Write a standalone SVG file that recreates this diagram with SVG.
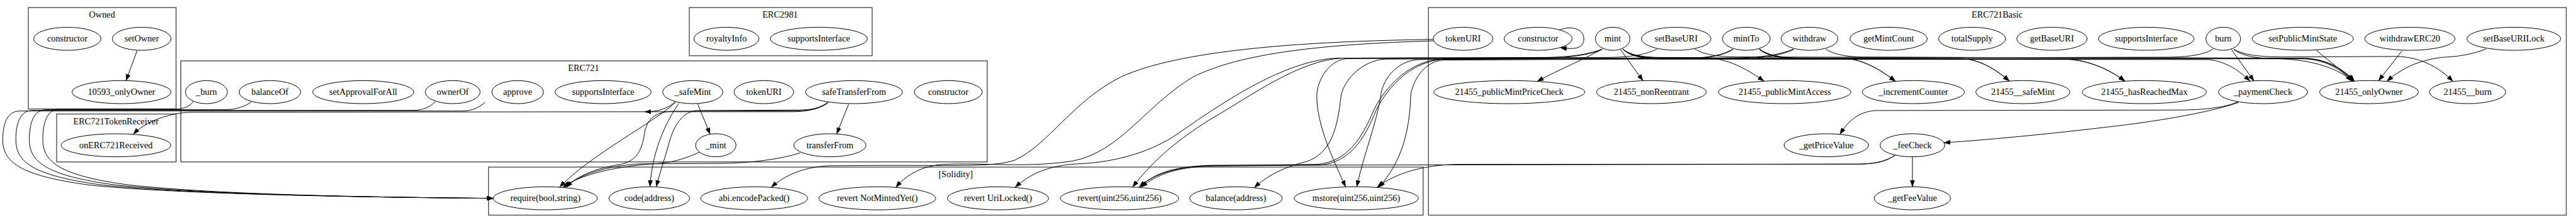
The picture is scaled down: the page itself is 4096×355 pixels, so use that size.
<svg xmlns="http://www.w3.org/2000/svg" width="4096" height="355" viewBox="0 0 4096 355">
<defs>
<style>
.cl{fill:none;stroke:#4a4a4a;stroke-width:1.8}
.clb{fill:none;stroke:#000;stroke-width:1.3}
.ct{font-family:"Liberation Serif","Times New Roman",serif;font-size:18.7px;text-anchor:middle;fill:#000}
.n ellipse{fill:none;stroke:#000;stroke-width:1.3}
.n text{font-family:"Liberation Serif","Times New Roman",serif;font-size:18.7px;text-anchor:middle;fill:#000}
.e path{fill:none;stroke:#000;stroke-width:1.3;marker-end:url(#arr)}
</style>
<marker id="arr" markerUnits="userSpaceOnUse" markerWidth="14" markerHeight="10" refX="13.5" refY="5" orient="auto"><path d="M0,0 L14,5 L0,10 z" fill="#000"/></marker>
</defs>
<rect x="0" y="0" width="4096" height="355" fill="#fff"/>
<g transform="scale(0.765)">
<g id="clusters">
<g id="cluster_Owned"><rect class="cl" x="59" y="15.7" width="307" height="211"/><text class="ct" x="212" y="36">Owned</text></g>
<g id="cluster_ERC2981"><rect class="cl" x="1432.7" y="15.7" width="380" height="100.3"/><text class="ct" x="1621.6" y="36">ERC2981</text></g>
<g id="cluster_ERC721"><rect class="clb" x="376" y="126.7" width="1676" height="210.3"/><text class="ct" x="1213" y="148">ERC721</text></g>
<g id="cluster_ERC721TokenReceiver"><rect class="cl" x="117.7" y="237.3" width="248.3" height="99.7"/><text class="ct" x="241" y="259">ERC721TokenReceiver</text></g>
<g id="cluster_Solidity"><rect class="cl" x="1015.4" y="347.7" width="1942.6" height="100"/><text class="ct" x="1986.6" y="369">[Solidity]</text></g>
<g id="cluster_ERC721Basic"><rect class="cl" x="2969" y="15.7" width="2365" height="432"/><text class="ct" x="4151" y="36">ERC721Basic</text></g>
</g>
<g id="edges" class="e">
<path d="M285,105 L262,167.7"/>
<path d="M402,211 C395,220 385,227 365,227 L124,227 C97,227 89,257 89,290 C89,335 119,365 269,385 C439,403 700,410 1025.6,412.7"/>
<path d="M523.5,211 C510,222 490,228.3 465,228.3 L96,228.3 C69,228.3 61,258 61,290 C61,335 91,365 241,385 C411,403 700,410 1025.6,412.7"/>
<path d="M905,211 C895,222 880,229.6 860,229.6 L68,229.6 C41,229.6 33,259 33,290 C33,335 63,365 213,385 C383,403 700,410 1025.6,412.7"/>
<path d="M1008,213 C995,224 982,231 960,231 L41,231 C14,231 5.7,260 5.7,290 C5.7,335 35.7,365 185.7,385 C355.7,403 700,410 1025.6,412.7"/>
<path d="M1404,211 C1390,225 1370,232.5 1340,232.5 L400,233.5 C350,234 300,255 277,279.5"/>
<path d="M1721,213 C1705,226 1680,232 1650,232.5 L1340,232.5"/>
<path d="M1404,213 C1360,255 1230,320 1163,389.6"/>
<path d="M1411,215 C1380,260 1355,320 1351,388.7"/>
<path d="M1450,216 L1476,279.3"/>
<path d="M1764,216.7 L1739,278.7"/>
<path d="M1721,213 C1705,225 1685,229 1660,229 L1450,230 C1420,231 1400,260 1390,300 C1380,335 1370,365 1364,388.5"/>
<path d="M1721,214 C1705,226 1685,230 1660,230.5 L1400,231.5 C1360,232 1345,250 1340,275 C1335,310 1325,335 1290,342 C1240,350 1200,365 1177,390"/>
<path d="M1453.6,316.7 C1430,328 1400,338 1370,340 C1290,345 1210,360 1170,390"/>
<path d="M1663.5,318 C1620,332 1560,339 1500,340 L1330,341 C1260,345 1200,365 1173,390"/>
<path d="M2979,82 C2700,86 2450,105 2330,160 C2230,210 2180,300 2110,333 C2060,350 1980,342 1720,345 C1670,348 1630,365 1603,390"/>
<path d="M2979,85 C2750,92 2580,110 2480,160 C2380,220 2330,315 2230,335 C2130,350 2050,338 1960,342 C1910,346 1880,368 1862,390"/>
<path d="M3444,102 C3420,114 3390,119 3340,119.5 L2780,121 C2680,124 2560,200 2460,270 C2400,315 2320,338 2240,341 C2180,344 2140,362 2110,390"/>
<path d="M3330,102 C3300,114 3260,119.5 3200,119.5 L2790,121 C2700,125 2600,200 2513,250 C2450,290 2400,330 2354,389.3"/>
<path d="M3939,323 C3920,335 3900,341 3860,341.5 L2520,344 C2440,346 2400,360 2368,389.5"/>
<path d="M3728,102 C3700,114 3660,120 3600,120.5 L2880,123 C2830,125 2790,170 2787,203 C2780,260 2770,320 2713,337 C2680,345 2640,360 2607,390.6"/>
<path d="M3330,103 C3300,116 3250,121 3200,121 L2800,122 C2760,125 2737,170 2737,200 C2737,260 2770,330 2797,389"/>
<path d="M3602,102 C3580,115 3550,121 3500,121 L2950,124 C2900,126 2872,170 2870,200 C2860,260 2835,320 2820,388.7"/>
<path d="M3939,323 C3920,336 3900,341.5 3860,341.5 L3030,342 C2960,343 2900,360 2862,390"/>
<path d="M3728,103 C3700,116 3660,122 3600,122 L3000,125 C2960,127 2935,170 2932,200 C2930,270 2915,335 2866,390"/>
<path d="M3602,103 C3580,116 3550,122 3500,122 L3000,123 C2930,125 2880,180 2855,230 C2830,290 2800,335 2740,342 L2520,344.5 C2450,346 2400,360 2368,389.5"/>
<path d="M4600,102 C4580,114 4550,119 4500,119 L3010,122.5 C2935,124 2885,180 2860,230 C2835,292 2805,337 2745,343.5 L2520,345.5 C2450,347 2405,362 2372,389.5"/>
<path d="M3330,102 C3300,120 3240,145 3195,169.4"/>
<path d="M3368,103 L3415,168"/>
<path d="M3373,102 C3385,113 3410,119 3450,119.5 L3550,120 C3600,124 3640,150 3666.7,169"/>
<path d="M3373,102 C3386,114 3412,120 3450,120.5 L3830,121 C3875,123 3912,148 3940,169.2"/>
<path d="M3374,103 C3388,115 3415,121 3455,121.5 L4080,122 C4120,125 4152,148 4176.7,168.7"/>
<path d="M3374,103 C3388,116 3415,122 3455,122.5 L4300,123.5 C4350,127 4392,150 4416.7,168.9"/>
<path d="M3374,103 C3388,117 3415,123 3455,123 L4590,124 C4630,128 4657,150 4676.7,168.7"/>
<path d="M3657,102 C3672,114 3700,120.5 3740,120.5 L3830,121 C3875,123 3912,148 3940,169.2"/>
<path d="M3657,102 C3673,115 3702,121 3742,121 L4080,122 C4120,125 4152,148 4176.7,168.7"/>
<path d="M3657,103 C3673,116 3702,122 3742,122 L4300,123 C4350,127 4392,150 4416.7,168.9"/>
<path d="M3657,103 C3674,116 3705,122 3745,122 L4790,122.5 C4840,125 4870,148 4888,169.2"/>
<path d="M3523,102 C3540,113 3570,118.5 3610,118.5 L4790,121 C4842,123 4875,148 4894,169.3"/>
<path d="M3795,102 C3810,113 3840,119 3880,119 L4790,121.5 C4842,124 4874,148 4892,169.2"/>
<path d="M4638,103 L4685,168.7"/>
<path d="M4643,102 C4660,114 4700,119 4750,118.5 L4980,117.5 C5030,118 5070,140 5098.7,169.5"/>
<path d="M4643,103 C4660,116 4690,122 4730,122 C4810,123 4866,146 4890,169.2"/>
<path d="M4815,105 L4893,168.8"/>
<path d="M4992.5,106 L4943.7,168.1"/>
<path d="M5167.6,102 C5130,116 5100,118 5080,119 C5020,125 4985,148 4961,169.3"/>
<path d="M4651,212 C4625,224 4580,229 4520,229 L3900,230 C3860,232 3840,255 3824,279.5"/>
<path d="M4653,213 C4600,232 4500,250 4400,262 C4250,280 4120,292 4040,297"/>
<path d="M3975,326.3 L3975,388.7"/>
<path d="M3240,63 C3265,52 3292,60 3292,80.7 C3292,100 3275,104 3243,99"/>
</g>
<g id="nodes" class="n">
<g id="Owned_constructor"><ellipse cx="140" cy="80.7" rx="70" ry="24"/><text x="140" y="86.7">constructor</text></g>
<g id="Owned_setOwner"><ellipse cx="294.5" cy="80.7" rx="61" ry="24"/><text x="294.5" y="86.7">setOwner</text></g>
<g id="Owned_10593_onlyOwner"><ellipse cx="252.6" cy="191.7" rx="103" ry="24"/><text x="252.6" y="197.7">10593_onlyOwner</text></g>
<g id="ERC2981_royaltyInfo"><ellipse cx="1510" cy="80.7" rx="67.7" ry="24"/><text x="1510" y="86.7">royaltyInfo</text></g>
<g id="ERC2981_supportsInterface"><ellipse cx="1702" cy="80.7" rx="101" ry="24"/><text x="1702" y="86.7">supportsInterface</text></g>
<g id="ERC721__burn"><ellipse cx="429" cy="191.7" rx="43.6" ry="24"/><text x="429" y="197.7">_burn</text></g>
<g id="ERC721_balanceOf"><ellipse cx="561" cy="191.7" rx="64" ry="24"/><text x="561" y="197.7">balanceOf</text></g>
<g id="ERC721_setApprovalForAll"><ellipse cx="755" cy="191.7" rx="105" ry="24"/><text x="755" y="197.7">setApprovalForAll</text></g>
<g id="ERC721_ownerOf"><ellipse cx="941" cy="191.7" rx="57" ry="24"/><text x="941" y="197.7">ownerOf</text></g>
<g id="ERC721_approve"><ellipse cx="1076" cy="191.7" rx="53.7" ry="24"/><text x="1076" y="197.7">approve</text></g>
<g id="ERC721_supportsInterface"><ellipse cx="1253.6" cy="191.7" rx="100" ry="24"/><text x="1253.6" y="197.7">supportsInterface</text></g>
<g id="ERC721__safeMint"><ellipse cx="1440" cy="191.7" rx="62.6" ry="24"/><text x="1440" y="197.7">_safeMint</text></g>
<g id="ERC721_tokenURI"><ellipse cx="1587.7" cy="191.7" rx="62" ry="24"/><text x="1587.7" y="197.7">tokenURI</text></g>
<g id="ERC721_safeTransferFrom"><ellipse cx="1775" cy="191.7" rx="101" ry="24"/><text x="1775" y="197.7">safeTransferFrom</text></g>
<g id="ERC721_constructor"><ellipse cx="1971" cy="191.7" rx="70.6" ry="24"/><text x="1971" y="197.7">constructor</text></g>
<g id="ERC721__mint"><ellipse cx="1487.8" cy="302.3" rx="42" ry="24"/><text x="1487.8" y="308.3">_mint</text></g>
<g id="ERC721_transferFrom"><ellipse cx="1725" cy="302.3" rx="75" ry="24"/><text x="1725" y="308.3">transferFrom</text></g>
<g id="ERC721TokenReceiver_onERC721Received"><ellipse cx="241" cy="302.3" rx="114" ry="24"/><text x="241" y="308.3">onERC721Received</text></g>
<g id="Solidity_require"><ellipse cx="1133.6" cy="412.7" rx="108" ry="24"/><text x="1133.6" y="418.7">require(bool,string)</text></g>
<g id="Solidity_code"><ellipse cx="1349.5" cy="412.7" rx="84" ry="24"/><text x="1349.5" y="418.7">code(address)</text></g>
<g id="Solidity_abiEncodePacked"><ellipse cx="1567.6" cy="412.7" rx="111" ry="24"/><text x="1567.6" y="418.7">abi.encodePacked()</text></g>
<g id="Solidity_revertNotMintedYet"><ellipse cx="1823.5" cy="412.7" rx="121.5" ry="24"/><text x="1823.5" y="418.7">revert NotMintedYet()</text></g>
<g id="Solidity_revertUriLocked"><ellipse cx="2074.4" cy="412.7" rx="105" ry="24"/><text x="2074.4" y="418.7">revert UriLocked()</text></g>
<g id="Solidity_revert"><ellipse cx="2327" cy="412.7" rx="122.8" ry="24"/><text x="2327" y="418.7">revert(uint256,uint256)</text></g>
<g id="Solidity_balance"><ellipse cx="2569" cy="412.7" rx="96.4" ry="24"/><text x="2569" y="418.7">balance(address)</text></g>
<g id="Solidity_mstore"><ellipse cx="2819" cy="412.7" rx="129" ry="24"/><text x="2819" y="418.7">mstore(uint256,uint256)</text></g>
<g id="Basic_tokenURI"><ellipse cx="3041" cy="80.7" rx="62" ry="24"/><text x="3041" y="86.7">tokenURI</text></g>
<g id="Basic_constructor"><ellipse cx="3197" cy="80.7" rx="70.6" ry="24"/><text x="3197" y="86.7">constructor</text></g>
<g id="Basic_mint"><ellipse cx="3352" cy="80.7" rx="36" ry="24"/><text x="3352" y="86.7">mint</text></g>
<g id="Basic_setBaseURI"><ellipse cx="3484" cy="80.7" rx="72.3" ry="24"/><text x="3484" y="86.7">setBaseURI</text></g>
<g id="Basic_mintTo"><ellipse cx="3629.7" cy="80.7" rx="49.5" ry="24"/><text x="3629.7" y="86.7">mintTo</text></g>
<g id="Basic_withdraw"><ellipse cx="3761" cy="80.7" rx="59" ry="24"/><text x="3761" y="86.7">withdraw</text></g>
<g id="Basic_getMintCount"><ellipse cx="3925.5" cy="80.7" rx="80.4" ry="24"/><text x="3925.5" y="86.7">getMintCount</text></g>
<g id="Basic_totalSupply"><ellipse cx="4099" cy="80.7" rx="69.5" ry="24"/><text x="4099" y="86.7">totalSupply</text></g>
<g id="Basic_getBaseURI"><ellipse cx="4265" cy="80.7" rx="73.2" ry="24"/><text x="4265" y="86.7">getBaseURI</text></g>
<g id="Basic_supportsInterface"><ellipse cx="4461" cy="80.7" rx="99.5" ry="24"/><text x="4461" y="86.7">supportsInterface</text></g>
<g id="Basic_burn"><ellipse cx="4621" cy="80.7" rx="36" ry="24"/><text x="4621" y="86.7">burn</text></g>
<g id="Basic_setPublicMintState"><ellipse cx="4786.4" cy="80.7" rx="105" ry="24"/><text x="4786.4" y="86.7">setPublicMintState</text></g>
<g id="Basic_withdrawERC20"><ellipse cx="5009" cy="80.7" rx="94" ry="24"/><text x="5009" y="86.7">withdrawERC20</text></g>
<g id="Basic_setBaseURILock"><ellipse cx="5225" cy="80.7" rx="97.6" ry="24"/><text x="5225" y="86.7">setBaseURILock</text></g>
<g id="Basic_publicMintPriceCheck"><ellipse cx="3137" cy="191.7" rx="157" ry="24"/><text x="3137" y="197.7">21455_publicMintPriceCheck</text></g>
<g id="Basic_nonReentrant"><ellipse cx="3432.5" cy="191.7" rx="114" ry="24"/><text x="3432.5" y="197.7">21455_nonReentrant</text></g>
<g id="Basic_publicMintAccess"><ellipse cx="3709.6" cy="191.7" rx="137.6" ry="24"/><text x="3709.6" y="197.7">21455_publicMintAccess</text></g>
<g id="Basic_incrementCounter"><ellipse cx="3977" cy="191.7" rx="106" ry="24"/><text x="3977" y="197.7">_incrementCounter</text></g>
<g id="Basic_21455__safeMint"><ellipse cx="4204.5" cy="191.7" rx="97.9" ry="24"/><text x="4204.5" y="197.7">21455__safeMint</text></g>
<g id="Basic_hasReachedMax"><ellipse cx="4457" cy="191.7" rx="129" ry="24"/><text x="4457" y="197.7">21455_hasReachedMax</text></g>
<g id="Basic_paymentCheck"><ellipse cx="4703.7" cy="191.7" rx="92.7" ry="24"/><text x="4703.7" y="197.7">_paymentCheck</text></g>
<g id="Basic_21455_onlyOwner"><ellipse cx="4924" cy="191.7" rx="102.8" ry="24"/><text x="4924" y="197.7">21455_onlyOwner</text></g>
<g id="Basic_21455__burn"><ellipse cx="5129" cy="191.7" rx="79.2" ry="24"/><text x="5129" y="197.7">21455__burn</text></g>
<g id="Basic_getPriceValue"><ellipse cx="3796" cy="302.3" rx="87.8" ry="24"/><text x="3796" y="308.3">_getPriceValue</text></g>
<g id="Basic_feeCheck"><ellipse cx="3975" cy="302.3" rx="67.2" ry="24"/><text x="3975" y="308.3">_feeCheck</text></g>
<g id="Basic_getFeeValue"><ellipse cx="3975" cy="412.7" rx="79.5" ry="24"/><text x="3975" y="418.7">_getFeeValue</text></g>
</g>
</g>
</svg>
